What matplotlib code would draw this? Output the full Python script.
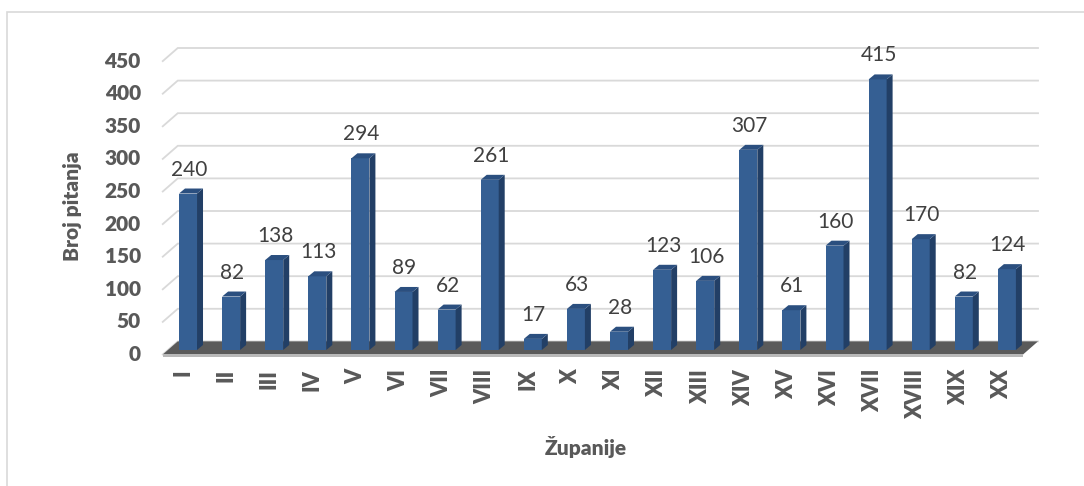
import matplotlib
matplotlib.use("Agg")
import matplotlib.pyplot as plt
from matplotlib.patches import Polygon, Rectangle

# ----------------------------------------------------------------------------------------------------------------------
#  DATA
# ----------------------------------------------------------------------------------------------------------------------
zupanije = ['I', 'II', 'III', 'IV', 'V', 'VI', 'VII', 'VIII', 'IX', 'X',
            'XI', 'XII', 'XIII', 'XIV', 'XV', 'XVI', 'XVII', 'XVIII', 'XIX', 'XX']
broj_pitanja = [240, 82, 138, 113, 294, 89, 62, 261, 17, 63,
                28, 123, 106, 307, 61, 160, 415, 170, 82, 124]
y_ticks = [0, 50, 100, 150, 200, 250, 300, 350, 400, 450]

x_title = 'Županije'
y_title = 'Broj pitanja'

# ----------------------------------------------------------------------------------------------------------------------
#  STYLE
# ----------------------------------------------------------------------------------------------------------------------
plt.rcParams['font.family'] = ['Lato', 'DejaVu Sans']

W, H = 1084, 486
fig = plt.figure(figsize=(W / 100, H / 100), dpi=100)

# chart border
fig.patches.append(Rectangle((7 / W, -0.1), 1.2, 1.1 - 12 / H, transform=fig.transFigure,
                             fill=False, edgecolor='#d9d9d9', linewidth=1.2))

ax_l, ax_r, ax_t, ax_b = 150, 1050, 30, 370
ax = fig.add_axes([ax_l / W, 1 - ax_b / H, (ax_r - ax_l) / W, (ax_b - ax_t) / H])
xlim = (-0.882, 20.0)
ylim = (-30.7, 490.8)
ax.set_xlim(*xlim)
ax.set_ylim(*ylim)
ax.axis('off')

# pixel -> data helpers
sx = (ax_r - ax_l) / (xlim[1] - xlim[0])
sy = (ax_b - ax_t) / (ylim[1] - ylim[0])
def px_x(p): return p / sx
def px_y(p): return p / sy

front = (px_x(-5), px_y(-4.5))    # front plane offset relative to bars
back = (px_x(10), px_y(8.6))      # back wall offset
x0, x1 = -0.47, 19.49             # floor extent
grid_c = '#d9d9d9'

# gridlines on left side wall + back wall
for t in y_ticks:
    ax.plot([x0 + front[0], x0 + back[0], x1 + back[0]],
            [t + front[1], t + back[1], t + back[1]],
            color=grid_c, linewidth=1.3, zorder=1, solid_joinstyle='miter')
    ax.text(x0 + front[0] - px_x(22), t + front[1], str(t), ha='right', va='center',
            fontsize=15, fontweight='heavy', color='#595959')

# floor
floor = Polygon([(x0 + front[0], front[1]), (x1 + front[0], front[1]),
                 (x1 + back[0], back[1]), (x0 + back[0], back[1])],
                closed=True, facecolor='#5a5a5a', edgecolor='none', zorder=2)
ax.add_patch(floor)
edge = Polygon([(x0 + front[0], front[1]), (x1 + front[0], front[1]),
                (x1 + front[0], front[1] - px_y(3)), (x0 + front[0], front[1] - px_y(3))],
               closed=True, facecolor='#b8b8b8', edgecolor='none', zorder=2)
ax.add_patch(edge)

# bars
bw = px_x(18)
ddx, ddy = px_x(6), px_y(5)
xs = list(range(len(zupanije)))
ax.bar(xs, broj_pitanja, width=bw, color='#355f93', edgecolor='none', zorder=3)
for i, v in zip(xs, broj_pitanja):
    r = i + bw / 2
    l = i - bw / 2
    ax.add_patch(Polygon([(r, 0), (r + ddx, ddy), (r + ddx, v + ddy), (r, v)],
                         closed=True, facecolor='#223f66', edgecolor='none', zorder=3))
    ax.add_patch(Polygon([(l, v), (r, v), (r + ddx, v + ddy), (l + ddx, v + ddy)],
                         closed=True, facecolor='#2b4f7f', edgecolor='none', zorder=3))
    ax.text(i + px_x(1), v + px_y(24), str(v), ha='center', va='center',
            fontsize=15, color='#404040', zorder=4)
    ax.text(i + front[0], px_y(-19), zupanije[i], rotation=90, ha='center', va='top',
            fontsize=15.5, fontweight='heavy', color='#595959')

# axis titles
fig.text(72 / W, 1 - 206 / H, y_title, rotation=90, ha='center', va='center',
         fontsize=15, fontweight='heavy', color='#595959')
fig.text(586 / W, 1 - 447 / H, x_title, ha='center', va='center',
         fontsize=15, fontweight='heavy', color='#595959')

fig.savefig('out.png', dpi=100)
